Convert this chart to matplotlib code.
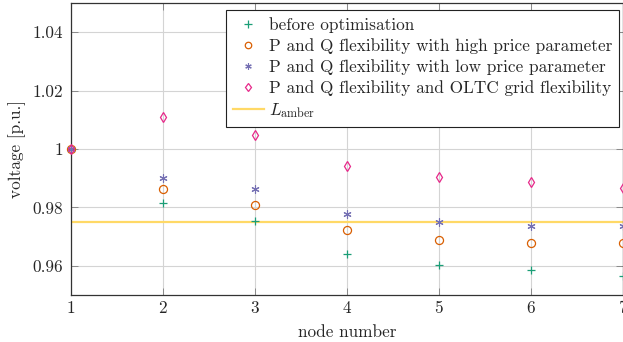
import matplotlib
matplotlib.use("Agg")
import matplotlib.pyplot as plt

plt.rcParams['font.family'] = 'serif'
plt.rcParams['font.serif'] = ['cmr10', 'DejaVu Serif']
plt.rcParams['mathtext.fontset'] = 'cm'
plt.rcParams['axes.formatter.use_mathtext'] = True

nodes = [1, 2, 3, 4, 5, 6, 7]
before = [1.0, 0.9815, 0.9752, 0.9642, 0.9603, 0.9587, 0.9566]
high_price = [1.0, 0.9864, 0.9809, 0.9721, 0.9690, 0.9679, 0.9679]
low_price = [1.0, 0.9902, 0.9864, 0.9777, 0.9749, 0.9738, 0.9738]
oltc = [1.0, 1.0110, 1.0047, 0.9942, 0.9903, 0.9886, 0.9867]
l_amber = 0.975

yticks = [0.96, 0.98, 1.0, 1.02, 1.04]
ytick_labels = ['0.96', '0.98', '1', '1.02', '1.04']

FS = 12.4
W, H = 623, 342
fig = plt.figure(figsize=(W / 100, H / 100), dpi=100)
ax = fig.add_axes([71 / W, (H - 295) / H, (622.5 - 71) / W, (295 - 3) / H])

ax.set_xlim(1, 7)
ax.set_ylim(0.95, 1.05)
ax.set_xticks(nodes)
ax.set_xticklabels([str(n) for n in nodes])
ax.set_yticks(yticks)
ax.set_yticklabels(ytick_labels)
ax.grid(True, color='#d4d4d4', linewidth=0.8)
ax.set_axisbelow(True)
ax.tick_params(axis='both', direction='in', length=5, width=0.6, color='#7f7f7f',
               top=True, right=True, labelsize=FS, labelcolor='#262626')
ax.tick_params(axis='x', pad=4)
ax.tick_params(axis='y', pad=6)
for s in ax.spines.values():
    s.set_color('#333333')
    s.set_linewidth(0.9)

ms = 5.8
ax.plot(nodes, before, linestyle='none', marker='+', color='#1b9e77',
        markersize=ms + 0.6, markeredgewidth=0.9, clip_on=False,
        label='before optimisation', zorder=3)
ax.plot(nodes, high_price, linestyle='none', marker='o', color='#d95f02',
        markerfacecolor='none', markersize=ms, markeredgewidth=0.9, clip_on=False,
        label='P and Q flexibility with high price parameter', zorder=3)
ax.plot(nodes, low_price, linestyle='none', marker=(6, 2, 0), color='#7570b3',
        markersize=ms, markeredgewidth=0.8, clip_on=False,
        label='P and Q flexibility with low price parameter', zorder=3)
ax.plot(nodes, oltc, linestyle='none', marker='d', color='#e7298a',
        markerfacecolor='none', markersize=ms - 0.4, markeredgewidth=0.9, clip_on=False,
        label='P and Q flexibility and OLTC grid flexibility', zorder=3)
ax.axhline(l_amber, color='#ffd966', linewidth=1.6, label=r'$L_\mathrm{amber}$', zorder=2)

leg = ax.legend(loc='upper right', bbox_to_anchor=((619 - 71) / (622.5 - 71), (295 - 10) / 292),
                fontsize=FS, frameon=True, fancybox=False, framealpha=1,
                edgecolor='#222222', handlelength=1.85, handletextpad=0.25,
                borderpad=0.4, labelspacing=0.3, borderaxespad=0, markerscale=0.8)
leg.get_frame().set_linewidth(0.8)
for t in leg.get_texts():
    t.set_color('#262626')

ax.set_xlabel('node number', fontsize=FS, color='#262626', labelpad=6)
ax.set_ylabel('voltage [p.u.]', fontsize=FS, color='#262626', labelpad=4)

fig.savefig('out.png', dpi=100)
